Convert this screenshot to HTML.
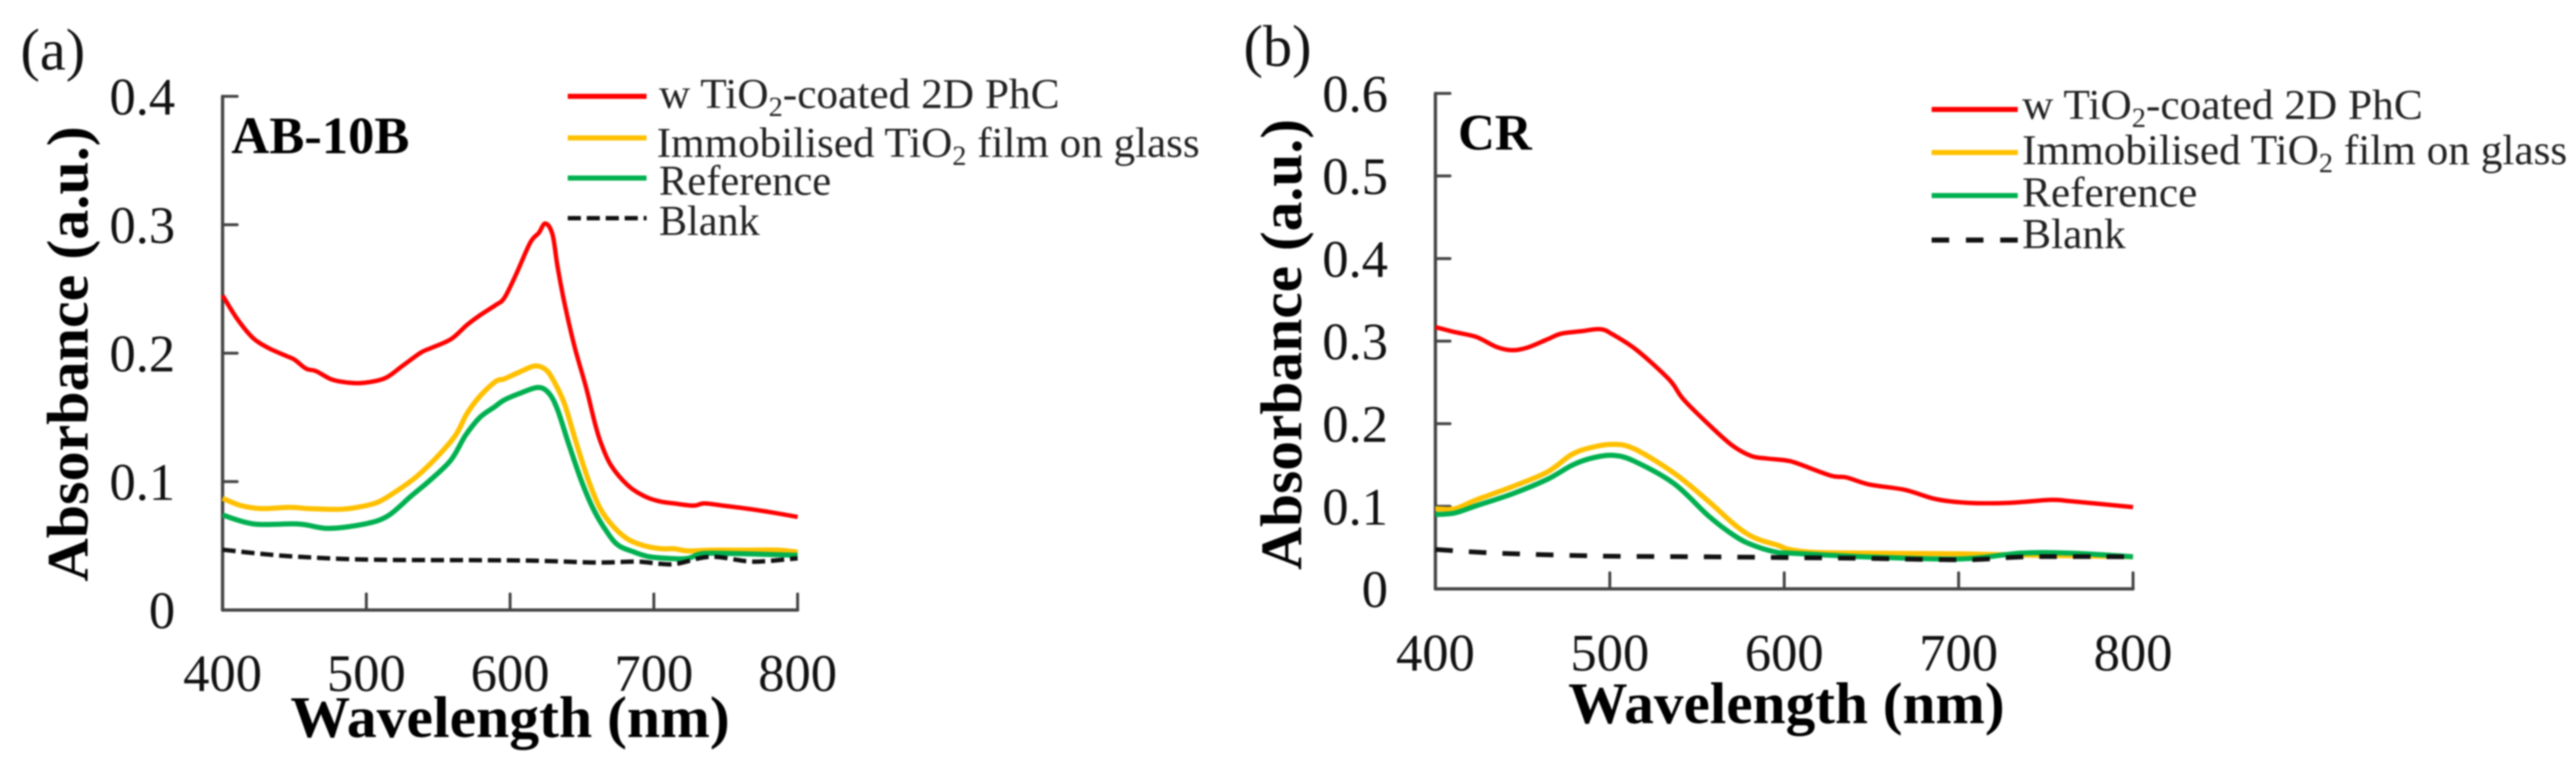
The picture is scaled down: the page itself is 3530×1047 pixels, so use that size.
<!DOCTYPE html>
<html lang="en">
<head>
<meta charset="utf-8">
<title>Absorbance spectra</title>
<style>
html,body{margin:0;padding:0;background:#fff;width:3530px;height:1047px;overflow:hidden}
svg{display:block;filter:blur(1px)}
text{font-family:"Liberation Serif",serif;fill:#111}
.tick{font-size:72px}
.title{font-size:81px;font-weight:bold;fill:#000}
.leg{font-size:58px;fill:#222}
.sub{font-size:38px}
</style>
</head>
<body>
<svg id="figure" xmlns="http://www.w3.org/2000/svg" width="3530" height="1047" viewBox="0 0 3530 1047">
  <rect x="0" y="0" width="3530" height="1047" fill="#fff"/>

  <g id="panel-a">
    <text x="28" y="95" font-size="80">(a)</text>
    <text x="317" y="210" font-size="72" font-weight="bold" fill="#000" textLength="244" lengthAdjust="spacingAndGlyphs" style="fill:#000">AB-10B</text>
    <text class="title" x="398" y="1010" textLength="602" lengthAdjust="spacingAndGlyphs">Wavelength (nm)</text>
    <text class="title" transform="translate(120,797) rotate(-90)" x="0" y="0" textLength="624" lengthAdjust="spacingAndGlyphs">Absorbance (a.u.)</text>
    <g>
      <line x1="778" x2="886" y1="132" y2="132" stroke="#ff0000" stroke-width="7"/>
      <line x1="778" x2="886" y1="189" y2="189" stroke="#ffc000" stroke-width="7"/>
      <line x1="778" x2="886" y1="244" y2="244" stroke="#00b050" stroke-width="7"/>
      <line x1="778" x2="886" y1="299" y2="299" stroke="#111" stroke-width="6" stroke-dasharray="18 8"/>
      <text class="leg" x="903" y="148" textLength="549" lengthAdjust="spacingAndGlyphs">w TiO<tspan class="sub" dy="11">2</tspan><tspan dy="-11">-coated 2D PhC</tspan></text>
      <text class="leg" x="900" y="215" textLength="744" lengthAdjust="spacingAndGlyphs">Immobilised TiO<tspan class="sub" dy="11">2</tspan><tspan dy="-11"> film on glass</tspan></text>
      <text class="leg" x="903" y="267" textLength="236" lengthAdjust="spacingAndGlyphs">Reference</text>
      <text class="leg" x="903" y="322" textLength="138" lengthAdjust="spacingAndGlyphs">Blank</text>
    </g>
  </g>

  <g id="panel-b">
    <text x="1704" y="90" font-size="80">(b)</text>
    <text x="1998" y="205" font-size="70" font-weight="bold" style="fill:#000" textLength="101" lengthAdjust="spacingAndGlyphs">CR</text>
    <text class="title" x="2149" y="991" textLength="598" lengthAdjust="spacingAndGlyphs">Wavelength (nm)</text>
    <text class="title" transform="translate(1783,781) rotate(-90)" x="0" y="0" textLength="618" lengthAdjust="spacingAndGlyphs">Absorbance (a.u.)</text>
    <g>
      <line x1="2647" x2="2765" y1="150" y2="150" stroke="#ff0000" stroke-width="7"/>
      <line x1="2647" x2="2765" y1="209" y2="209" stroke="#ffc000" stroke-width="7"/>
      <line x1="2647" x2="2765" y1="268" y2="268" stroke="#00b050" stroke-width="7"/>
      <line x1="2647" x2="2765" y1="329" y2="329" stroke="#111" stroke-width="7" stroke-dasharray="24 23"/>
      <text class="leg" x="2771" y="163" textLength="549" lengthAdjust="spacingAndGlyphs">w TiO<tspan class="sub" dy="11">2</tspan><tspan dy="-11">-coated 2D PhC</tspan></text>
      <text class="leg" x="2771" y="225" textLength="747" lengthAdjust="spacingAndGlyphs">Immobilised TiO<tspan class="sub" dy="11">2</tspan><tspan dy="-11"> film on glass</tspan></text>
      <text class="leg" x="2771" y="283" textLength="240" lengthAdjust="spacingAndGlyphs">Reference</text>
      <text class="leg" x="2771" y="340" textLength="142" lengthAdjust="spacingAndGlyphs">Blank</text>
    </g>
  </g>
</svg>

<script>
// Tick values
var xTicks = [400, 500, 600, 700, 800];
var yTicksA = [0, 0.1, 0.2, 0.3, 0.4];
var yTicksB = [0, 0.1, 0.2, 0.3, 0.4, 0.5, 0.6];
var yTickLabelsA = ['0', '0.1', '0.2', '0.3', '0.4'];
var yTickLabelsB = ['0', '0.1', '0.2', '0.3', '0.4', '0.5', '0.6'];

// Panel (a) AB-10B
var aRedWl = [400,410,421,432,444,450,458,465,476,488,499,513,525,538,545,559,570,579,590,596,604,614,620,624.5,629.5,633,638,645,653,659,663,670,682,693.5,704,714,727.5,735,748,764.5,782,800];
var aRedAbs = [0.245,0.227,0.212,0.204,0.198,0.195,0.188,0.186,0.1795,0.177,0.177,0.1805,0.19,0.2005,0.204,0.211,0.222,0.2295,0.2375,0.243,0.261,0.286,0.2937,0.301,0.2925,0.2675,0.238,0.2045,0.1727,0.1455,0.1307,0.113,0.097,0.0886,0.0846,0.083,0.0813,0.083,0.0813,0.079,0.076,0.0725];
var aYellowWl = [400,413,427,447,460,481,494,508,521,535,549,562,570,579,590,596,606,617,625,631,638,646.5,655,663,672,682,693.5,705.7,714,724,739,764.5,787,800];
var aYellowAbs = [0.087,0.0813,0.079,0.08,0.079,0.0784,0.08,0.084,0.0926,0.104,0.119,0.136,0.153,0.1665,0.178,0.18,0.185,0.19,0.187,0.177,0.16,0.1284,0.0994,0.0784,0.0648,0.0551,0.05,0.0477,0.0477,0.046,0.0466,0.0466,0.0466,0.045];
var aGreenWl = [400,422,453,473.5,499,515,531,545,559,569,579,589,596,607,619.5,627,633,641,650,658,667,675,685.5,697,714,724,734,756,800];
var aGreenAbs = [0.074,0.067,0.067,0.0636,0.067,0.0733,0.0886,0.1017,0.117,0.136,0.15,0.158,0.1636,0.1688,0.1733,0.1688,0.156,0.1284,0.0994,0.0784,0.0614,0.0506,0.0455,0.0415,0.04,0.0403,0.044,0.044,0.0426];
var aBlankWl = [400,425,453,505,608,659,688,704,716,739,764.5,778,800];
var aBlankAbs = [0.047,0.044,0.0415,0.0392,0.0386,0.037,0.0377,0.036,0.036,0.0415,0.038,0.038,0.0403];

// Panel (b) CR
var bRedWl = [400,411,423.5,435,444,453,464,472,483.6,494.6,501.7,515.5,534,542,556,570,581,589.5,601,607.5,627,635.5,649,669,687,705.4,729,753,765,800];
var bRedAbs = [0.317,0.311,0.305,0.293,0.289,0.2924,0.302,0.309,0.312,0.3145,0.308,0.289,0.2535,0.23,0.2005,0.174,0.161,0.158,0.1555,0.152,0.137,0.135,0.1263,0.12,0.1087,0.1042,0.1042,0.1078,0.106,0.099];
var bYellowWl = [400,411,423.5,444,464,478,489,501.7,514,537,556.6,572,583,596,603,617,645,701,722,800];
var bYellowAbs = [0.097,0.097,0.1078,0.1237,0.1413,0.1625,0.171,0.175,0.1696,0.14,0.106,0.0769,0.0618,0.053,0.0477,0.0442,0.0433,0.0424,0.0415,0.039];
var bGreenWl = [400,411,423.5,444,464,478,489,501.7,514,537,556.6,572,583,596,603,645,701,736,764,800];
var bGreenAbs = [0.09,0.0919,0.1007,0.115,0.1325,0.1493,0.158,0.1617,0.1546,0.1272,0.0883,0.0636,0.0521,0.0442,0.0433,0.0389,0.0362,0.0433,0.0433,0.0389];
var bBlankWl = [400,435,494,551,596,645,704,740,800];
var bBlankAbs = [0.0477,0.0433,0.0398,0.0389,0.038,0.037,0.0353,0.0389,0.0389];

var SVGNS = 'http://www.w3.org/2000/svg';

function xScaleA(w) { return 305 + (w - 400) * (1093 - 305) / 400; }
function yScaleA(v) { return 836 - v * (836 - 132) / 0.4; }
function xScaleB(w) { return 1967 + (w - 400) * (2923 - 1967) / 400; }
function yScaleB(v) { return 807 - v * (807 - 128) / 0.6; }

function addLine(parent, x1, y1, x2, y2, w, color) {
  var el = document.createElementNS(SVGNS, 'line');
  el.setAttribute('x1', x1);
  el.setAttribute('y1', y1);
  el.setAttribute('x2', x2);
  el.setAttribute('y2', y2);
  el.setAttribute('stroke', color);
  el.setAttribute('stroke-width', w);
  el.setAttribute('stroke-linecap', 'round');
  parent.appendChild(el);
  return el;
}

function addTickText(parent, x, y, anchor, str) {
  var t = document.createElementNS(SVGNS, 'text');
  t.setAttribute('class', 'tick');
  t.setAttribute('x', x);
  t.setAttribute('y', y);
  t.setAttribute('text-anchor', anchor);
  t.textContent = str;
  parent.appendChild(t);
  return t;
}

function drawAxes(parent, xs, ys, yVals, yLabels, yMax, xLabelBaseline, yLabelRight) {
  var axisColor = '#444';
  var x0 = xs(400), x1 = xs(800), y0 = ys(0), yTop = ys(yMax);

  var yAxis = addLine(parent, x0, y0, x0, yTop, 4.5, axisColor);
  
  

  var xAxis = addLine(parent, x0, y0, x1, y0, 4.5, axisColor);
  
  

  xTicks.forEach(function (w) {
    var tick = addLine(parent, xs(w), y0, xs(w), y0 - 22, 4, axisColor);
    
    
    var lab = addTickText(parent, xs(w), xLabelBaseline, 'middle', String(w));
    
    
  });

  yVals.forEach(function (v, i) {
    var tick = addLine(parent, x0, ys(v), x0 + 20, ys(v), 4, axisColor);
    
    
    var lab = addTickText(parent, yLabelRight, ys(v) + 25, 'end', yLabels[i]);
    
    
  });
}

// Catmull-Rom smoothing through the data points, matching the instrument traces
function smoothPath(wl, abs, xs, ys) {
  var px = wl.map(xs), py = abs.map(ys);
  var n = px.length;
  var d = 'M' + px[0].toFixed(1) + ' ' + py[0].toFixed(1);
  for (var i = 0; i < n - 1; i++) {
    var a = Math.max(i - 1, 0), b = Math.min(i + 2, n - 1);
    var c1x = px[i] + (px[i + 1] - px[a]) / 6;
    var c1y = py[i] + (py[i + 1] - py[a]) / 6;
    var c2x = px[i + 1] - (px[b] - px[i]) / 6;
    var c2y = py[i + 1] - (py[b] - py[i]) / 6;
    d += 'C' + c1x.toFixed(1) + ' ' + c1y.toFixed(1) + ' ' + c2x.toFixed(1) + ' ' + c2y.toFixed(1) + ' ' + px[i + 1].toFixed(1) + ' ' + py[i + 1].toFixed(1);
  }
  return d;
}

function drawSeries(parent, wl, abs, xs, ys, color, width, dash, name) {
  var el = document.createElementNS(SVGNS, 'path');
  el.setAttribute('d', smoothPath(wl, abs, xs, ys));
  el.setAttribute('fill', 'none');
  el.setAttribute('stroke', color);
  el.setAttribute('stroke-width', width);
  el.setAttribute('stroke-linejoin', 'round');
  if (dash) el.setAttribute('stroke-dasharray', dash);
  
  
  parent.appendChild(el);
}

var panelA = document.getElementById('panel-a');
var panelB = document.getElementById('panel-b');

drawAxes(panelA, xScaleA, yScaleA, yTicksA, yTickLabelsA, 0.4, 947, 240);
drawAxes(panelB, xScaleB, yScaleB, yTicksB, yTickLabelsB, 0.6, 919, 1902);

drawSeries(panelA, aRedWl, aRedAbs, xScaleA, yScaleA, '#ff0000', 6, null, 'series-coated-phc');
drawSeries(panelA, aYellowWl, aYellowAbs, xScaleA, yScaleA, '#ffc000', 7, null, 'series-immobilised-film');
drawSeries(panelA, aGreenWl, aGreenAbs, xScaleA, yScaleA, '#00b050', 7, null, 'series-reference');
drawSeries(panelA, aBlankWl, aBlankAbs, xScaleA, yScaleA, '#111', 6, '18 8', 'series-blank');

drawSeries(panelB, bRedWl, bRedAbs, xScaleB, yScaleB, '#ff0000', 6, null, 'series-coated-phc');
drawSeries(panelB, bYellowWl, bYellowAbs, xScaleB, yScaleB, '#ffc000', 7, null, 'series-immobilised-film');
drawSeries(panelB, bGreenWl, bGreenAbs, xScaleB, yScaleB, '#00b050', 7, null, 'series-reference');
drawSeries(panelB, bBlankWl, bBlankAbs, xScaleB, yScaleB, '#111', 6.5, '24 22', 'series-blank');
</script>
</body>
</html>
